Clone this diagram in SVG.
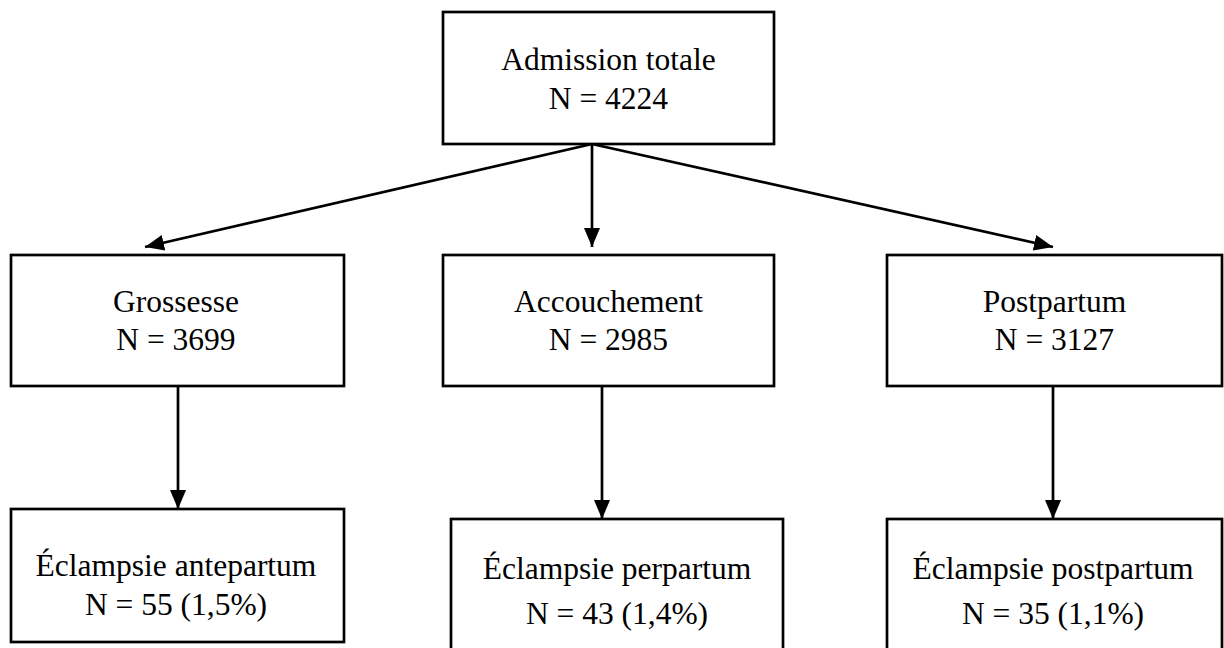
<svg xmlns="http://www.w3.org/2000/svg" width="1224" height="648" viewBox="0 0 1224 648">
<style>
.box{fill:#fff;stroke:#000;stroke-width:2.7}
.t{font-family:"Liberation Serif","Times New Roman",serif;font-size:31.5px;fill:#000;text-anchor:middle}
.c{stroke:#000;stroke-width:2.7;fill:none;marker-end:url(#ah)}
</style>
<defs>
<marker id="ah" markerUnits="userSpaceOnUse" markerWidth="20" markerHeight="18" viewBox="0 0 20 18" refX="19" refY="9" orient="auto">
<path d="M0,1 L19,9 L0,17 Z" fill="#000"/>
</marker>
</defs>
<rect width="1224" height="648" fill="#fff"/>
<g id="connectors">
<line class="c" x1="592" y1="144" x2="145" y2="247"/>
<line class="c" x1="592" y1="144" x2="592" y2="247"/>
<line class="c" x1="592" y1="144" x2="1053" y2="247"/>
<line class="c" x1="178" y1="386" x2="178" y2="509"/>
<line class="c" x1="602" y1="386" x2="602" y2="519"/>
<line class="c" x1="1053" y1="386" x2="1053" y2="519"/>
</g>
<g id="admission">
<rect class="box" x="443" y="12" width="331" height="132"/>
<text class="t" x="608.5" y="70">Admission totale</text>
<text class="t" x="608.5" y="109">N = 4224</text>
</g>
<g id="grossesse">
<rect class="box" x="11" y="255" width="333" height="131"/>
<text class="t" x="176" y="312">Grossesse</text>
<text class="t" x="176" y="350">N = 3699</text>
</g>
<g id="accouchement">
<rect class="box" x="443" y="255" width="331" height="131"/>
<text class="t" x="608.5" y="312">Accouchement</text>
<text class="t" x="608.5" y="350">N = 2985</text>
</g>
<g id="postpartum">
<rect class="box" x="887" y="255" width="335" height="131"/>
<text class="t" x="1054.5" y="312">Postpartum</text>
<text class="t" x="1054.5" y="350">N = 3127</text>
</g>
<g id="eclampsie-antepartum">
<rect class="box" x="11" y="509" width="333" height="133"/>
<text class="t" x="176" y="576">Éclampsie antepartum</text>
<text class="t" x="176" y="615">N = 55 (1,5%)</text>
</g>
<g id="eclampsie-perpartum">
<rect class="box" x="451" y="519" width="332" height="140"/>
<text class="t" x="617" y="579">Éclampsie perpartum</text>
<text class="t" x="617" y="624">N = 43 (1,4%)</text>
</g>
<g id="eclampsie-postpartum">
<rect class="box" x="887" y="519" width="335" height="140"/>
<text class="t" x="1053" y="579">Éclampsie postpartum</text>
<text class="t" x="1053" y="624">N = 35 (1,1%)</text>
</g>
</svg>
